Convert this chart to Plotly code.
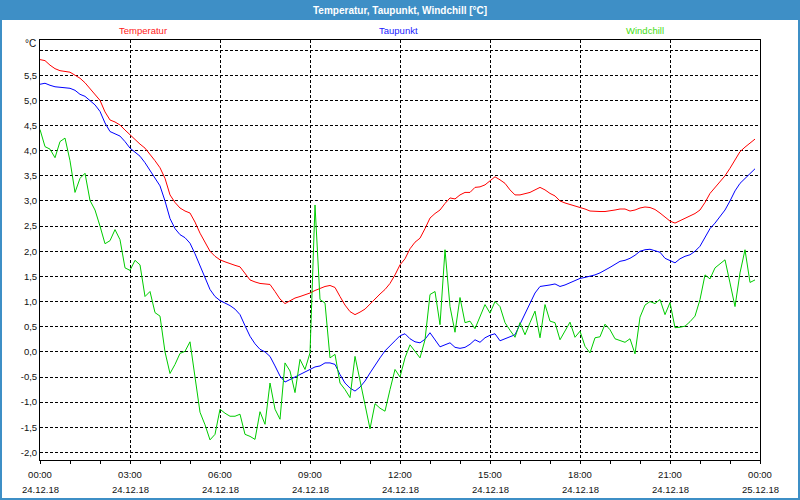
import plotly.graph_objects as go
import pandas as pd

# ---------------- data (10-minute values, 24.12.18 00:00 .. 23:50) ----------------
START = "2018-12-24 00:00"
N_POINTS = 144

SERIES_NAMES = ["Temperatur", "Taupunkt", "Windchill"]

temperatur = [
    5.81, 5.79, 5.70, 5.63, 5.59, 5.57, 5.56, 5.50, 5.44, 5.35, 5.24, 5.13,
    5.00, 4.77, 4.61, 4.57, 4.51, 4.41, 4.31, 4.23, 4.13, 4.05, 3.93, 3.80,
    3.66, 3.45, 3.12, 2.97, 2.86, 2.80, 2.76, 2.58, 2.36, 2.18, 2.00, 1.90,
    1.83, 1.79, 1.75, 1.72, 1.69, 1.55, 1.43, 1.39, 1.36, 1.35, 1.34, 1.20,
    1.05, 0.96, 1.02, 1.07, 1.10, 1.13, 1.17, 1.22, 1.26, 1.30, 1.32, 1.28,
    1.10, 0.93, 0.80, 0.74, 0.79, 0.85, 0.95, 1.06, 1.15, 1.24, 1.36, 1.53,
    1.73, 1.85, 2.05, 2.18, 2.26, 2.45, 2.66, 2.75, 2.82, 2.95, 3.06, 3.04,
    3.12, 3.17, 3.17, 3.27, 3.28, 3.32, 3.40, 3.48, 3.42, 3.35, 3.22, 3.12,
    3.12, 3.14, 3.17, 3.22, 3.27, 3.22, 3.15, 3.10, 3.00, 2.96, 2.93, 2.90,
    2.88, 2.84, 2.80, 2.79, 2.79, 2.79, 2.80, 2.82, 2.84, 2.84, 2.80, 2.82,
    2.86, 2.88, 2.87, 2.83, 2.76, 2.68, 2.60, 2.56, 2.61, 2.66, 2.70, 2.75,
    2.82, 2.97, 3.15, 3.27, 3.38, 3.50, 3.65, 3.82, 3.98, 4.07, 4.15, 4.23,
]

taupunkt = [
    5.32, 5.34, 5.30, 5.27, 5.26, 5.25, 5.24, 5.20, 5.12, 5.08, 5.00, 4.91,
    4.78, 4.55, 4.38, 4.33, 4.29, 4.18, 4.05, 3.97, 3.89, 3.76, 3.60, 3.44,
    3.30, 3.00, 2.65, 2.45, 2.33, 2.27, 2.16, 1.95, 1.72, 1.50, 1.24, 1.10,
    1.02, 0.97, 0.92, 0.85, 0.74, 0.52, 0.31, 0.16, 0.05, 0.00, -0.09, -0.28,
    -0.48, -0.60, -0.55, -0.50, -0.45, -0.40, -0.36, -0.30, -0.28, -0.22, -0.22, -0.25,
    -0.45, -0.62, -0.72, -0.78, -0.70, -0.58, -0.42, -0.26, -0.12, 0.02, 0.13, 0.22,
    0.32, 0.36, 0.26, 0.20, 0.18, 0.25, 0.38, 0.25, 0.10, 0.14, 0.18, 0.09,
    0.07, 0.09, 0.15, 0.24, 0.19, 0.28, 0.33, 0.36, 0.22, 0.26, 0.30, 0.34,
    0.55, 0.75, 0.97, 1.17, 1.30, 1.31, 1.33, 1.35, 1.30, 1.33, 1.37, 1.42,
    1.46, 1.48, 1.50, 1.53, 1.57, 1.62, 1.68, 1.74, 1.80, 1.82, 1.86, 1.92,
    2.00, 2.03, 2.04, 2.01, 1.98, 1.86, 1.81, 1.77, 1.85, 1.90, 1.93, 2.00,
    2.10, 2.28, 2.45, 2.56, 2.70, 2.82, 3.00, 3.20, 3.35, 3.45, 3.55, 3.64,
]

windchill = [
    4.42, 4.08, 4.03, 3.86, 4.18, 4.25, 3.80, 3.17, 3.45, 3.55, 3.01, 2.82,
    2.50, 2.15, 2.21, 2.43, 2.23, 1.67, 1.62, 1.82, 1.73, 1.10, 1.20, 0.78,
    0.71, 0.00, -0.43, -0.25, -0.03, 0.01, 0.20, -0.55, -1.20, -1.45, -1.75, -1.64,
    -1.14, -1.22, -1.28, -1.28, -1.24, -1.64, -1.68, -1.74, -1.19, -1.44, -0.62, -1.14,
    -1.34, -0.22, -0.38, -0.81, -0.15, -0.35, -0.02, 2.92, 1.04, 0.97, -0.12, -0.05,
    -0.62, -0.75, -0.91, -0.09, -0.60, -1.05, -1.53, -1.03, -1.12, -1.18, -0.75, -0.35,
    -0.50, -0.12, 0.14, 0.00, -0.12, 0.24, 1.14, 1.20, 0.54, 2.03, 0.90, 0.39,
    1.08, 0.58, 0.61, 0.46, 0.70, 0.94, 0.77, 1.00, 0.90, 0.58, 0.43, 0.29,
    0.58, 0.34, 0.58, 0.81, 0.28, 0.94, 0.61, 0.58, 0.24, 0.42, 0.59, 0.29,
    0.41, 0.11, -0.02, 0.28, 0.30, 0.55, 0.44, 0.26, 0.22, 0.19, 0.26, -0.04,
    0.69, 0.93, 1.00, 0.96, 1.04, 0.74, 0.98, 0.48, 0.49, 0.51, 0.60, 0.71,
    1.04, 1.53, 1.45, 1.67, 1.75, 1.83, 1.37, 0.90, 1.57, 2.03, 1.38, 1.43,
]

# axis labels
Y_TICK_VALUES = [-2.0, -1.5, -1.0, -0.5, 0.0, 0.5, 1.0, 1.5, 2.0, 2.5, 3.0,
                 3.5, 4.0, 4.5, 5.0, 5.5, 6.0]
Y_TICK_LABELS = ["-2,0", "-1,5", "-1,0", "-0,5", "0,0", "0,5", "1,0", "1,5",
                 "2,0", "2,5", "3,0", "3,5", "4,0", "4,5", "5,0", "5,5", ""]
X_TICK_TIMES = ["2018-12-24 00:00", "2018-12-24 03:00", "2018-12-24 06:00",
                "2018-12-24 09:00", "2018-12-24 12:00", "2018-12-24 15:00",
                "2018-12-24 18:00", "2018-12-24 21:00", "2018-12-25 00:00"]
X_TICK_HOURS = ["00:00", "03:00", "06:00", "09:00", "12:00", "15:00",
                "18:00", "21:00", "00:00"]
X_TICK_DATES = ["24.12.18", "24.12.18", "24.12.18", "24.12.18", "24.12.18",
                "24.12.18", "24.12.18", "24.12.18", "25.12.18"]

TITLE = "Temperatur, Taupunkt, Windchill [°C]"
UNIT = "°C"

# ---------------- styling ----------------
LINE_COLORS = ["#ff0000", "#0000ff", "#00cc00"]
LABEL_COLORS = ["#ff2020", "#2020ff", "#44dd11"]
FRAME_BLUE = "#3e8fc6"
FONT = "Liberation Sans"
TXT = "#111111"

W, H = 800, 500
ML, MR, MT, MB = 40, 40, 40, 40
PW, PH = W - ML - MR, H - MT - MB


def px_x(p):
    return (p - ML) / PW


def px_y(p):
    return 1 - (p - MT) / PH


times = pd.date_range(START, periods=N_POINTS, freq="10min")

fig = go.Figure()
for name, vals, col in zip(SERIES_NAMES, [temperatur, taupunkt, windchill], LINE_COLORS):
    fig.add_trace(go.Scatter(x=times, y=vals, mode="lines", name=name,
                             line=dict(color=col, width=1)))

# series labels (legend) above the plot
legend_px = [143, 398, 645]
annotations = []
for name, col, xp in zip(SERIES_NAMES, LABEL_COLORS, legend_px):
    annotations.append(dict(text=name, xref="paper", yref="paper",
                            x=px_x(xp), y=px_y(30), xanchor="center", yanchor="middle",
                            showarrow=False, font=dict(family=FONT, size=9.5, color=col)))
annotations.append(dict(text=UNIT, xref="paper", yref="paper",
                        x=px_x(38), y=px_y(44), xanchor="right", yanchor="middle",
                        showarrow=False, font=dict(family=FONT, size=10, color=TXT)))
annotations.append(dict(text="<b>" + TITLE + "</b>", xref="paper", yref="paper",
                        x=0.5, y=px_y(10), xanchor="center", yanchor="middle",
                        showarrow=False, font=dict(family=FONT, size=10, color="white")))
# second line of the x tick labels (dates)
for t, d in zip(X_TICK_TIMES, X_TICK_DATES):
    annotations.append(dict(text=d, xref="x", yref="paper", x=t, y=px_y(489),
                            xanchor="center", yanchor="middle", showarrow=False,
                            font=dict(family=FONT, size=9.5, color=TXT)))

shapes = [
    dict(type="rect", xref="paper", yref="paper", x0=px_x(0), x1=px_x(W),
         y0=px_y(0), y1=px_y(20), fillcolor=FRAME_BLUE, line=dict(width=0), layer="above"),
    dict(type="rect", xref="paper", yref="paper", x0=px_x(1), x1=px_x(W - 1),
         y0=px_y(1), y1=px_y(H - 1), line=dict(color=FRAME_BLUE, width=2), layer="above"),
]

fig.update_layout(
    width=W, height=H,
    margin=dict(l=ML, r=MR, t=MT, b=MB, pad=0),
    paper_bgcolor="white", plot_bgcolor="white",
    showlegend=False,
    annotations=annotations, shapes=shapes,
    font=dict(family=FONT, size=9.5, color=TXT),
)

fig.update_xaxes(
    range=[X_TICK_TIMES[0], X_TICK_TIMES[-1]],
    tickvals=X_TICK_TIMES,
    ticktext=X_TICK_HOURS,
    ticks="outside", ticklen=3, tickcolor="black", tickwidth=1,
    ticklabelstandoff=3,
    minor=dict(ticks="outside", dtick=3600000, ticklen=3, tickcolor="black", showgrid=False),
    showgrid=True, gridcolor="black", gridwidth=1, griddash="3px,2px",
    showline=True, linecolor="black", linewidth=1, mirror=True,
    zeroline=False, tickfont=dict(family=FONT, size=9.5, color=TXT),
)

fig.update_yaxes(
    range=[-2.15, 6.2],
    tickvals=Y_TICK_VALUES, ticktext=Y_TICK_LABELS,
    ticks="", showgrid=True, gridcolor="black", gridwidth=1, griddash="3px,2px",
    showline=True, linecolor="black", linewidth=1, mirror=True,
    zeroline=False, tickfont=dict(family=FONT, size=9.5, color=TXT),
)

fig.write_html("out.html")
